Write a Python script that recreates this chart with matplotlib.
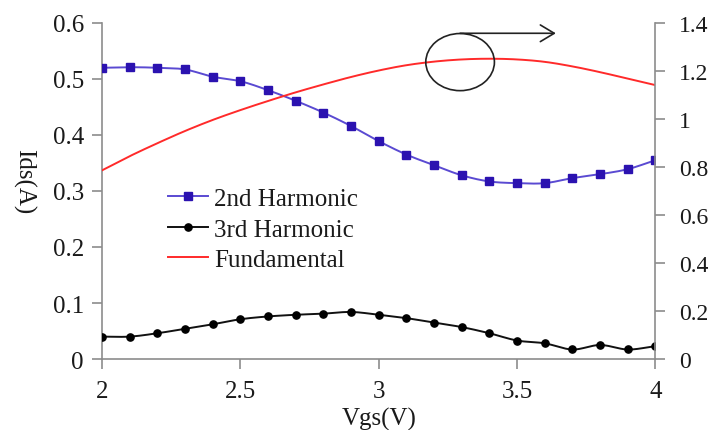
import numpy as np
import matplotlib
matplotlib.use("Agg")
import matplotlib.pyplot as plt
from matplotlib.patches import Ellipse
from matplotlib.lines import Line2D

plt.rcParams['font.family'] = ['Liberation Serif', 'DejaVu Serif']

vgs = [2.0, 2.1, 2.2, 2.3, 2.4, 2.5, 2.6, 2.7, 2.8, 2.9, 3.0,
       3.1, 3.2, 3.3, 3.4, 3.5, 3.6, 3.7, 3.8, 3.9, 4.0]
second_harmonic = [0.520, 0.521, 0.520, 0.517, 0.504, 0.496, 0.480, 0.461, 0.440, 0.416, 0.389,
                   0.365, 0.346, 0.328, 0.317, 0.314, 0.314, 0.323, 0.330, 0.339, 0.355]
third_harmonic = [0.040, 0.040, 0.046, 0.054, 0.062, 0.071, 0.076, 0.079, 0.081, 0.084, 0.079,
                  0.073, 0.065, 0.057, 0.046, 0.033, 0.028, 0.017, 0.025, 0.017, 0.023]
fundamental = [0.786, 0.845, 0.899, 0.950, 0.996, 1.037, 1.075, 1.111, 1.144, 1.175, 1.202,
               1.224, 1.239, 1.248, 1.251, 1.248, 1.238, 1.219, 1.195, 1.168, 1.141]

left_ticks = [0, 0.1, 0.2, 0.3, 0.4, 0.5, 0.6]
right_ticks = [0, 0.2, 0.4, 0.6, 0.8, 1.0, 1.2, 1.4]
x_ticks = [2, 2.5, 3, 3.5, 4]


def smooth(x, y, n=20):
    """Catmull-Rom style smoothing through every data point."""
    x = np.asarray(x, float)
    y = np.asarray(y, float)
    px = np.concatenate([[2 * x[0] - x[1]], x, [2 * x[-1] - x[-2]]])
    py = np.concatenate([[2 * y[0] - y[1]], y, [2 * y[-1] - y[-2]]])
    xs, ys = [], []
    t = np.linspace(0, 1, n, endpoint=False)
    for i in range(1, len(px) - 2):
        for arr, out in ((px, xs), (py, ys)):
            p0, p1, p2, p3 = arr[i - 1], arr[i], arr[i + 1], arr[i + 2]
            out.extend(0.5 * ((2 * p1) + (-p0 + p2) * t
                              + (2 * p0 - 5 * p1 + 4 * p2 - p3) * t ** 2
                              + (-p0 + 3 * p1 - 3 * p2 + p3) * t ** 3))
    xs.append(x[-1])
    ys.append(y[-1])
    return np.array(xs), np.array(ys)


fig = plt.figure(figsize=(7.10, 4.31), dpi=100)
ax = fig.add_axes([0.1437, 0.1647, 0.7795, 0.7797])
ax2 = ax.twinx()

blue_line = '#5A4AD2'
blue_mark = '#2B12B0'
spine_col = '#8C8C8C'
text_col = '#1a1a1a'

sx, sy = smooth(vgs, second_harmonic)
ax.plot(sx, sy, color=blue_line, lw=1.4, zorder=3)
ax.plot(vgs, second_harmonic, ls='none', marker='s', ms=5.2, color=blue_mark, zorder=4)

tx, ty = smooth(vgs, third_harmonic)
ax.plot(tx, ty, color='#111111', lw=1.4, zorder=3)
ax.plot(vgs, third_harmonic, ls='none', marker='o', ms=5.2, color='black', zorder=4)

fx, fy = smooth(vgs, fundamental)
ax2.plot(fx, fy, color='#FF2A2A', lw=1.4)

ax.set_xlim(2, 4)
ax.set_ylim(0, 0.6)
ax2.set_ylim(0, 1.4)
ax.set_xticks(x_ticks)
ax.set_xticklabels(['2', '2.5', '3', '3.5', '4'])
ax.set_yticks(left_ticks)
ax.set_yticklabels(['0', '0.1', '0.2', '0.3', '0.4', '0.5', '0.6'])
ax2.set_yticks(right_ticks)
ax2.set_yticklabels(['0', '0.2', '0.4', '0.6', '0.8', '1', '1.2', '1.4'])

for a in (ax, ax2):
    a.spines['top'].set_visible(False)
    for s in ('left', 'right', 'bottom'):
        a.spines[s].set_color(spine_col)
        a.spines[s].set_linewidth(1.2)
    a.tick_params(colors=spine_col, labelcolor=text_col, length=7, width=1.2,
                  direction='out', labelsize=18)
ax.tick_params(axis='y', pad=6)
ax.tick_params(axis='x', pad=8)
ax2.tick_params(axis='y', pad=10, labelsize=17)
ax.spines['right'].set_visible(False)
ax2.spines['left'].set_visible(False)
ax2.spines['bottom'].set_visible(False)

ax.set_xlabel('Vgs(V)', fontsize=18, labelpad=4, color=text_col)
ax.text(-0.142, 0.53, 'Ids(A)', transform=ax.transAxes, rotation=270,
        fontsize=18, color=text_col, ha='center', va='center')

# Marker for the fundamental peak with an arrow pointing to its axis
ax2.add_patch(Ellipse((3.294, 1.237), 0.248, 0.238, fill=False,
                      edgecolor='#222222', lw=1.2, zorder=5))
ax2.annotate('', xy=(3.64, 1.357), xytext=(3.294, 1.357),
             arrowprops=dict(arrowstyle='->,head_length=0.5,head_width=0.3',
                             mutation_scale=20, color='#222222', lw=1.2,
                             shrinkA=0, shrinkB=0))

handles = [
    Line2D([], [], color=blue_line, lw=1.4, marker='s', ms=5.2,
           markerfacecolor=blue_mark, markeredgecolor=blue_mark),
    Line2D([], [], color='#111111', lw=1.4, marker='o', ms=5.2,
           markerfacecolor='black', markeredgecolor='black'),
    Line2D([], [], color='#FF2A2A', lw=1.4),
]
leg = ax.legend(handles, ['2nd Harmonic', '3rd Harmonic', 'Fundamental'],
                loc='upper left', bbox_to_anchor=(0.12, 0.51), frameon=False,
                fontsize=18, handlelength=1.6, handletextpad=0.22,
                labelspacing=0.32, borderaxespad=0, borderpad=0)
for t in leg.get_texts():
    t.set_color(text_col)

fig.savefig('out.png', dpi=100)
